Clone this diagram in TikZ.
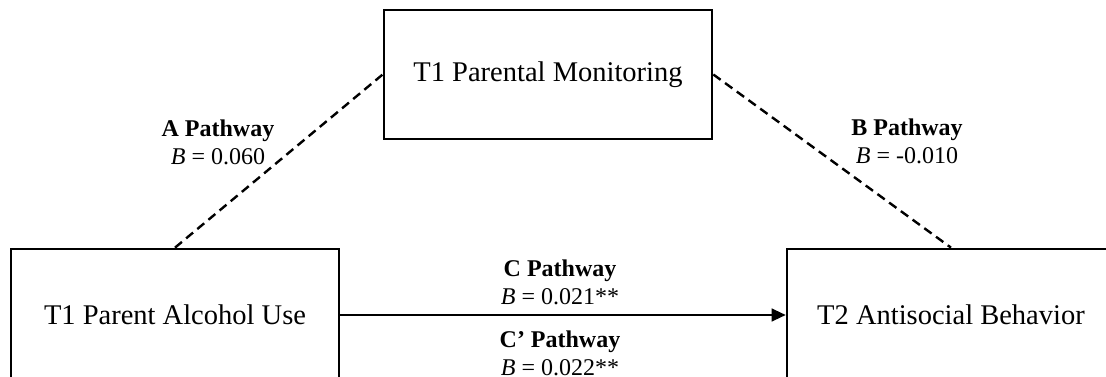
\documentclass[tikz,border=0pt]{standalone}
\usepackage{fontspec}
\setmainfont{Liberation Serif}
\usetikzlibrary{arrows.meta}
\tikzset{
  varbox/.style={draw=black, line width=2.7pt, minimum width=328pt, inner sep=0pt,
    font=\fontsize{28.5}{34}\selectfont},
  pathlabel/.style={align=center, inner sep=0pt, font=\fontsize{24}{28}\selectfont},
  dashlink/.style={line width=2.4pt, dash pattern=on 9pt off 5.5pt},
  directlink/.style={line width=1.3pt, -{Triangle[length=14pt,width=13pt]}}
}
\begin{document}
\begin{tikzpicture}[x=1pt,y=1pt]
\useasboundingbox (0,0) rectangle (1106,-377);
\node[varbox, minimum height=129pt] (pm) at (548,-74.5) {T1 Parental Monitoring};
\node[varbox, minimum height=132pt] (pa) at (175,-315) {T1 Parent Alcohol Use};
\node[varbox, minimum height=132pt] (ab) at (951,-315) {T2 Antisocial Behavior};
\draw[dashlink] (pa.north) -- (pm.west);
\draw[dashlink] (pm.east) -- (ab.north);
\draw[directlink] (pa.east) -- (ab.west);
\node[pathlabel] (la) at (218,-142) {\textbf{A Pathway}\\\textit{B} = 0.060};
\node[pathlabel] (lb) at (907,-141) {\textbf{B Pathway}\\\textit{B} = -0.010};
\node[pathlabel] (lc) at (560,-282) {\textbf{C Pathway}\\\textit{B} = 0.021**};
\node[pathlabel] (lcp) at (560,-353) {\textbf{C’ Pathway}\\\textit{B} = 0.022**};
\end{tikzpicture}
\end{document}
